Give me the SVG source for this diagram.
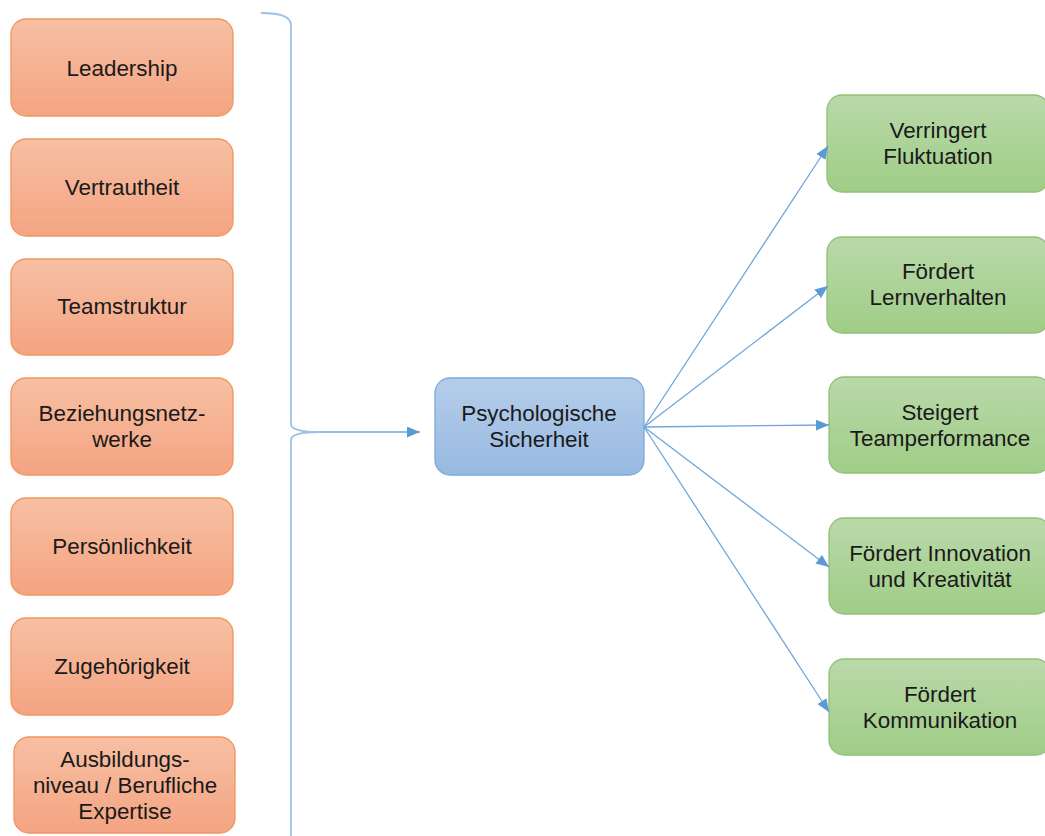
<svg xmlns="http://www.w3.org/2000/svg" width="1045" height="836" viewBox="0 0 1045 836">
<defs>
<linearGradient id="gO" x1="0" y1="0" x2="0" y2="1"><stop offset="0" stop-color="#f7bfa3"/><stop offset="1" stop-color="#f4a482"/></linearGradient>
<linearGradient id="gB" x1="0" y1="0" x2="0" y2="1"><stop offset="0" stop-color="#b5cdea"/><stop offset="1" stop-color="#97b9e1"/></linearGradient>
<linearGradient id="gG" x1="0" y1="0" x2="0" y2="1"><stop offset="0" stop-color="#bad9aa"/><stop offset="1" stop-color="#9fcd86"/></linearGradient>
<marker id="ah" viewBox="0 0 12 10" refX="12" refY="5" markerWidth="13" markerHeight="11" markerUnits="userSpaceOnUse" orient="auto"><path d="M0,0 L12,5 L0,10 z" fill="#5b9bd5"/></marker>
<style>
.o{fill:url(#gO);stroke:#f0955c;stroke-width:1.3}
.b{fill:url(#gB);stroke:#7ea9da;stroke-width:1.3}
.g{fill:url(#gG);stroke:#8fc176;stroke-width:1.3}
text{font-family:"Liberation Sans",Arial,sans-serif;font-size:22.4px;fill:#1a1a1a;text-anchor:middle}
.c{fill:none;stroke:#6fa5db;stroke-width:1.3}
.br{fill:none;stroke:#9cc2e8;stroke-width:1.8}
</style>
</defs>
<g id="n-leadership"><rect class="o" x="11" y="19" width="222" height="97" rx="15"/><text x="122" y="76">Leadership</text></g>
<g id="n-vertrautheit"><rect class="o" x="11" y="139" width="222" height="97" rx="15"/><text x="122" y="195">Vertrautheit</text></g>
<g id="n-teamstruktur"><rect class="o" x="11" y="259" width="222" height="96" rx="15"/><text x="122" y="314">Teamstruktur</text></g>
<g id="n-beziehung"><rect class="o" x="11" y="378" width="222" height="97" rx="15"/><text x="122" y="421">Beziehungsnetz-</text><text x="122" y="447">werke</text></g>
<g id="n-persoenlichkeit"><rect class="o" x="11" y="498" width="222" height="97" rx="15"/><text x="122" y="554">Persönlichkeit</text></g>
<g id="n-zugehoerigkeit"><rect class="o" x="11" y="618" width="222" height="97" rx="15"/><text x="122" y="674">Zugehörigkeit</text></g>
<g id="n-ausbildung"><rect class="o" x="14" y="737" width="221" height="96" rx="15"/><text x="125" y="767">Ausbildungs-</text><text x="125" y="793">niveau / Berufliche</text><text x="125" y="819">Expertise</text></g>
<g id="n-psych"><rect class="b" x="435" y="378" width="209" height="97" rx="15"/><text x="539" y="421">Psychologische</text><text x="539" y="447">Sicherheit</text></g>
<g id="n-fluktuation"><rect class="g" x="827" y="95" width="222" height="97" rx="15"/><text x="938" y="138">Verringert</text><text x="938" y="164">Fluktuation</text></g>
<g id="n-lernen"><rect class="g" x="827" y="237" width="222" height="96" rx="15"/><text x="938" y="279">Fördert</text><text x="938" y="305">Lernverhalten</text></g>
<g id="n-performance"><rect class="g" x="829" y="377" width="222" height="96" rx="15"/><text x="940" y="420">Steigert</text><text x="940" y="446">Teamperformance</text></g>
<g id="n-innovation"><rect class="g" x="829" y="518" width="222" height="96" rx="15"/><text x="940" y="561">Fördert Innovation</text><text x="940" y="587">und Kreativität</text></g>
<g id="n-kommunikation"><rect class="g" x="829" y="659" width="222" height="96" rx="15"/><text x="940" y="702">Fördert</text><text x="940" y="728">Kommunikation</text></g>
<g id="connectors">
<path class="br" d="M261,13 Q291,13 291,25 L291,424 Q291,432 320,432 Q291,432 291,440 L291,836"/>
<line class="c" x1="320" y1="432" x2="420" y2="432" marker-end="url(#ah)"/>
<line class="c" x1="644" y1="427" x2="828" y2="146" marker-end="url(#ah)"/>
<line class="c" x1="644" y1="427" x2="828" y2="286" marker-end="url(#ah)"/>
<line class="c" x1="644" y1="427" x2="829" y2="425" marker-end="url(#ah)"/>
<line class="c" x1="644" y1="427" x2="829" y2="567" marker-end="url(#ah)"/>
<line class="c" x1="644" y1="427" x2="829" y2="712" marker-end="url(#ah)"/>
</g>
</svg>
